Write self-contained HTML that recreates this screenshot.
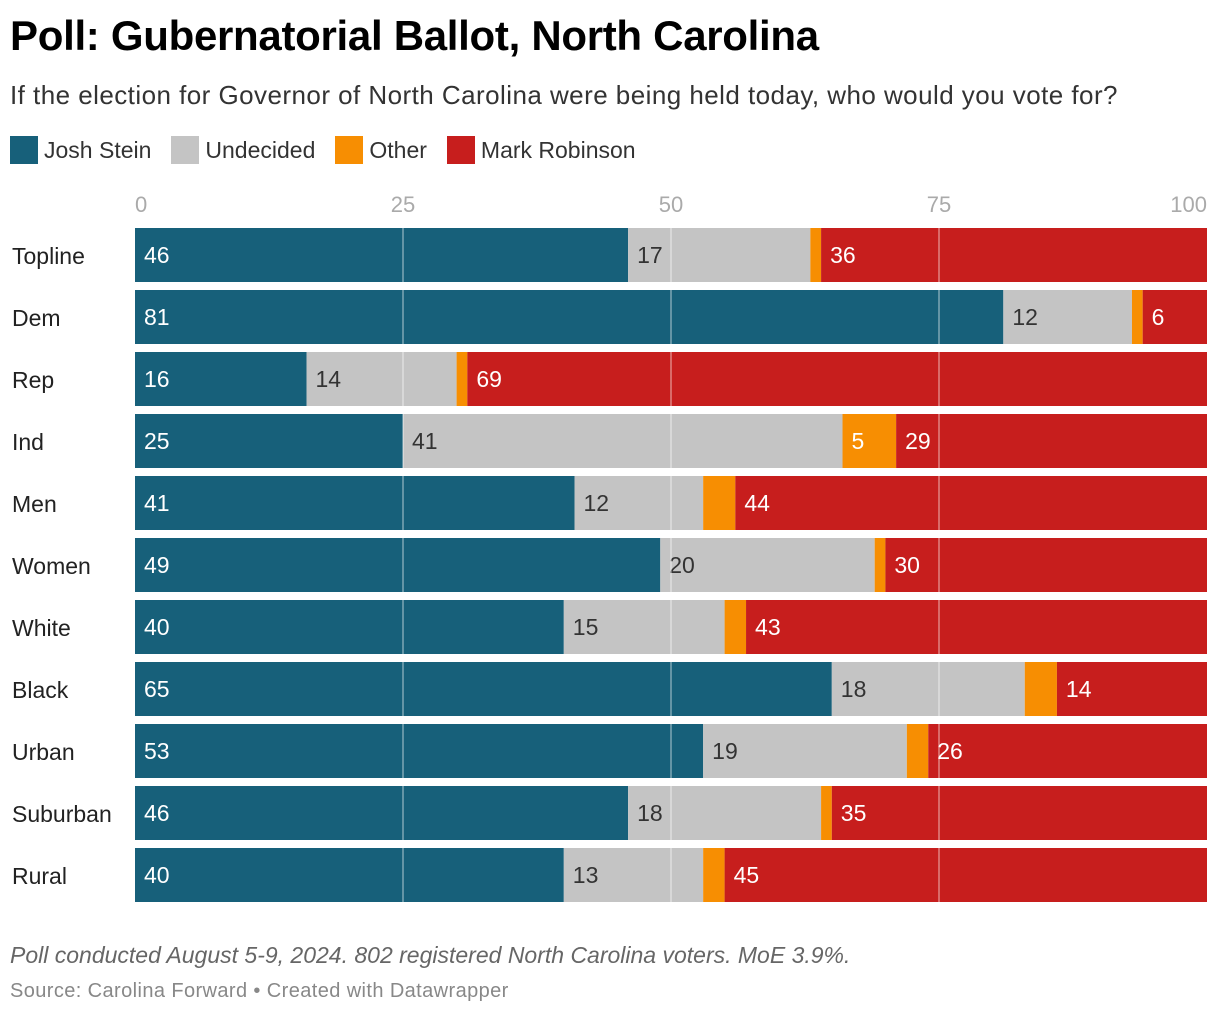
<!DOCTYPE html>
<html><head><meta charset="utf-8"><style>
body{margin:0;background:#fff;font-family:"Liberation Sans",Roboto,sans-serif;}
#wrap{position:relative;width:1220px;height:1018px;overflow:hidden}
h1{position:absolute;left:10px;top:12px;margin:0;font-size:42px;font-weight:bold;color:#000;letter-spacing:-0.3px}
.sub{position:absolute;left:10px;top:80px;font-size:26px;letter-spacing:0.45px;color:#333}
.legend{position:absolute;left:10px;top:136px;font-size:23px;color:#333;display:flex}
.li{display:flex;align-items:center;margin-right:20px}
.sw{width:28px;height:28px;margin-right:6px}
.note{position:absolute;left:10px;top:942px;font-size:23px;font-style:italic;color:#666}
.src{position:absolute;left:10px;top:980px;font-size:20px;letter-spacing:0.4px;color:#888}
</style></head><body>
<div id="wrap">
<h1>Poll: Gubernatorial Ballot, North Carolina</h1>
<div class="sub">If the election for Governor of North Carolina were being held today, who would you vote for?</div>
<div class="legend">
<div class="li"><div class="sw" style="background:#17607a"></div>Josh Stein</div>
<div class="li"><div class="sw" style="background:#c4c4c4"></div>Undecided</div>
<div class="li"><div class="sw" style="background:#f78e02"></div>Other</div>
<div class="li"><div class="sw" style="background:#c71e1d"></div>Mark Robinson</div>
</div>
<svg id="chart" width="1220" height="1018" style="position:absolute;left:0;top:0"></svg>
<div class="note">Poll conducted August 5-9, 2024. 802 registered North Carolina voters. MoE 3.9%.</div>
<div class="src">Source: Carolina Forward • Created with Datawrapper</div>
</div>
<script>
const categories=["Topline","Dem","Rep","Ind","Men","Women","White","Black","Urban","Suburban","Rural"];
const stein=[46,81,16,25,41,49,40,65,53,46,40];
const undecided=[17,12,14,41,12,20,15,18,19,18,13];
const other=[1,1,1,5,3,1,2,3,2,1,2];
const robinson=[36,6,69,29,44,30,43,14,26,35,45];
const ticks=[0,25,50,75,100];
const NS="http://www.w3.org/2000/svg";
const svg=document.getElementById('chart');
const x0=135,x1=1207,top0=228,pitch=62,bh=54;
const xs=v=>x0+(x1-x0)*v/100;
const yr=i=>top0+i*pitch;
function mk(t,a){const e=document.createElementNS(NS,t);for(const k in a)e.setAttribute(k,a[k]);svg.appendChild(e);return e;}
const series=[[stein,'#17607a','#fff','stein'],[undecided,'#c4c4c4','#333','undecided'],[other,'#f78e02','#fff','other'],[robinson,'#c71e1d','#fff','robinson']];
categories.forEach((c,i)=>{
  const lab=mk('text',{x:12,y:yr(i)+bh/2+9,'font-size':23,fill:'#222'});lab.textContent=c;
  
  
  let cum=0;
  series.forEach(s=>{
    const v=s[0][i];
    const r=mk('rect',{x:xs(cum),y:yr(i),width:xs(cum+v)-xs(cum),height:bh,fill:s[1]});
    
    
    if(v>=4){const t=mk('text',{x:xs(cum)+9,y:yr(i)+bh/2+8,'font-size':23,fill:s[2]});t.textContent=v;
      
      }
    cum+=v;
  });
});
ticks.forEach(t=>{
  if(t>0&&t<100){const l=mk('line',{x1:xs(t),x2:xs(t),y1:top0,y2:yr(categories.length-1)+bh,stroke:'rgba(255,255,255,0.45)','stroke-width':1.5});
    
    }
  const tx=mk('text',{x:xs(t),y:212,'font-size':22,fill:'#aaa','text-anchor':t===0?'start':(t===100?'end':'middle')});
  tx.textContent=t;
  
  
});
</script>
</body></html>
